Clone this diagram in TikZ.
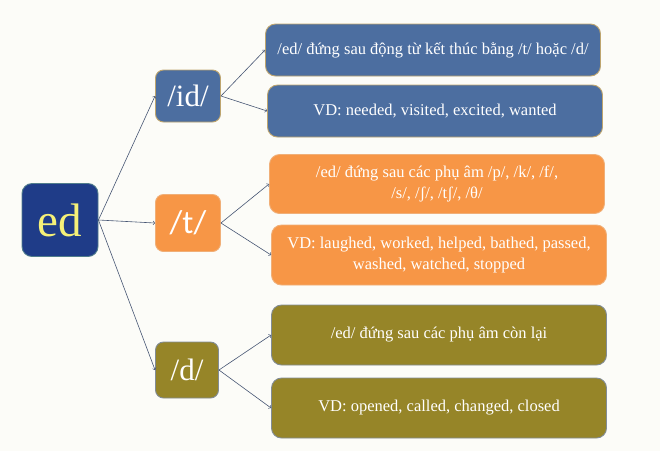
\documentclass[tikz,border=0pt]{standalone}
\usepackage{fontspec}
\setmainfont{Liberation Serif}
\newfontfamily\sansfam{Carlito}
\definecolor{bgcream}{RGB}{252,252,248}
\definecolor{navy}{RGB}{31,60,136}
\definecolor{navyline}{RGB}{80,125,140}
\definecolor{edyellow}{RGB}{245,240,120}
\definecolor{steel}{RGB}{76,110,160}
\definecolor{steelline}{RGB}{190,165,110}
\definecolor{orng}{RGB}{247,150,70}
\definecolor{orngline}{RGB}{240,175,120}
\definecolor{olive}{RGB}{150,133,40}
\definecolor{oliveline}{RGB}{130,140,150}
\definecolor{arrowgray}{RGB}{70,85,115}
\tikzset{
  box/.style={draw, rounded corners=8pt, align=center, inner sep=0pt, line width=0.9pt, text=white},
  soundbox/.style={box, minimum width=65pt, minimum height=55pt, font=\fontsize{31}{31}\selectfont},
  rulebox/.style={box, minimum width=335pt, rounded corners=10pt, font=\fontsize{16.5}{21.5}\selectfont},
  blue/.style={fill=steel, draw=steelline},
  orange/.style={fill=orng, draw=orngline},
  olivebox/.style={fill=olive, draw=oliveline},
  link/.style={->, draw=arrowgray, line width=0.6pt}
}
\begin{document}
\begin{tikzpicture}[x=1pt, y=-1pt, >=to]
\fill[bgcream] (0,0) rectangle (660,451);
\useasboundingbox (0,0) rectangle (660,451);

\node[box, fill=navy, draw=navyline, text=edyellow, minimum width=76pt, minimum height=73pt, rounded corners=10pt, font=\fontsize{47}{47}\selectfont] (ed) at (60,220) {ed};

\node[soundbox, blue, minimum height=52pt] (id) at (188,96) {/id/};
\node[soundbox, orange, minimum height=57pt, font=\sansfam\fontsize{33}{33}\selectfont] (t) at (188,223) {/t/};
\node[soundbox, olivebox, minimum width=63pt, minimum height=56pt] (d) at (187,370) {/d/};

\node[rulebox, blue, minimum height=52pt] (idrule) at (433,50) {/ed/ đứng sau động từ kết thúc bằng /t/ hoặc /d/};
\node[rulebox, blue, minimum height=52pt] (idex) at (435,111) {VD: needed, visited, excited, wanted};
\node[rulebox, orange, minimum height=59pt] (trule) at (437,184) {/ed/ đứng sau các phụ âm /p/, /k/, /f/,\\ /s/, /ʃ/, /tʃ/, /θ/};
\node[rulebox, orange, minimum height=60pt] (tex) at (439,255) {VD: laughed, worked, helped, bathed, passed,\\ washed, watched, stopped};
\node[rulebox, olivebox, minimum height=60pt] (drule) at (439,335) {/ed/ đứng sau các phụ âm còn lại};
\node[rulebox, olivebox, minimum height=60pt] (dex) at (439,408) {VD: opened, called, changed, closed};

\draw[link] (ed.east) -- (id.west);
\draw[link] (ed.east) -- (t.west);
\draw[link] (ed.east) -- (d.west);
\draw[link] (id.east) -- (idrule.west);
\draw[link] (id.east) -- (idex.west);
\draw[link] (t.east) -- (trule.west);
\draw[link] (t.east) -- (tex.west);
\draw[link] (d.east) -- (drule.west);
\draw[link] (d.east) -- (dex.west);
\end{tikzpicture}
\end{document}
